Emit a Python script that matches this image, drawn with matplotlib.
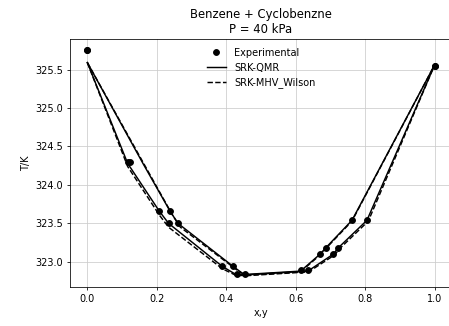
import matplotlib
matplotlib.use("Agg")
import matplotlib.pyplot as plt

# experimental T-x-y data
exp_x = [0.0, 0.116, 0.207, 0.234, 0.389, 0.430, 0.614, 0.670, 0.686, 0.762, 1.0]
exp_y = [0.0, 0.123, 0.238, 0.261, 0.420, 0.453, 0.635, 0.708, 0.722, 0.805, 1.0]
exp_T = [325.75, 324.30, 323.66, 323.50, 322.94, 322.84, 322.89, 323.10, 323.18, 323.54, 325.55]

# SRK-QMR model (T and y calculated at experimental x)
qmr_T = [325.59, 324.28, 323.66, 323.50, 322.94, 322.83, 322.88, 323.10, 323.18, 323.54, 325.56]
qmr_y = [0.0, 0.160, 0.238, 0.261, 0.420, 0.453, 0.635, 0.708, 0.722, 0.805, 1.0]

# SRK-MHV_Wilson model
mhv_T = [325.59, 324.24, 323.61, 323.45, 322.91, 322.82, 322.87, 323.09, 323.17, 323.53, 325.56]
mhv_y = [0.0, 0.167, 0.245, 0.268, 0.426, 0.456, 0.637, 0.712, 0.726, 0.809, 1.0]

fig = plt.figure(figsize=(449 / 70, 326 / 70), dpi=70)
ax = fig.add_axes([70 / 449, (326 - 287) / 326, (452 - 70) / 449, (287 - 39) / 326])

ax.plot(exp_x, exp_T, 'ko', label='Experimental')
ax.plot(exp_y, exp_T, 'ko')
ax.plot(exp_x, qmr_T, 'k-', label='SRK-QMR')
ax.plot(qmr_y, qmr_T, 'k-')
ax.plot(exp_x, mhv_T, 'k--', label='SRK-MHV_Wilson')
ax.plot(mhv_y, mhv_T, 'k--')

ax.grid(True, color='#cccccc')
ax.legend(loc='upper center', frameon=False)
ax.set_title("Benzene + Cyclobenzne\nP = 40 kPa")
ax.set_xlabel("x,y")
ax.set_ylabel("T/K")

fig.savefig("out.png", dpi=70)
